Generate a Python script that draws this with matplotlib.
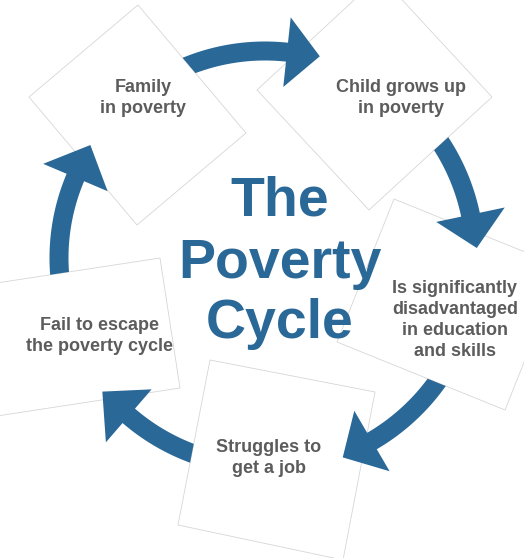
import numpy as np
import matplotlib
matplotlib.use("Agg")
import matplotlib.pyplot as plt
from matplotlib.patches import Polygon
from matplotlib.path import Path

# ---- content ----
step_labels = [
    ["Family", "in poverty"],
    ["Child grows up", "in poverty"],
    ["Is significantly", "disadvantaged", "in education", "and skills"],
    ["Struggles to", "get a job"],
    ["Fail to escape", "the poverty cycle"],
]
title_lines = ["The", "Poverty", "Cycle"]

# ---- layout (pixel space, y down) ----
W, H = 524, 558
BOXES = [
    [(138, 5), (246, 133), (137, 225), (29, 97)],
    [(380, -24), (492, 97), (369, 210), (257, 90)],
    [(394, 199), (562, 267), (505, 410), (337, 342)],
    [(210, 360), (375, 392), (343, 560), (178, 525)],
    [(160, 258), (180, 388), (-3, 416), (-23, 286)],
]
TEXT_POS = [(143, 92), (401, 92), (455, 293), (269, 452), (100, 330)]
LINE_H = 21
TITLE_X = 280
TITLE_BASELINES = [215, 278, 338]
CENTER = (265, 258)
# radius, tail angle, head-base angle, tip angle (degrees)
ARROWS = [
    (207, 118, 83.9, 74.8),
    (210, 40, 11.9, 2.7),
    (212, -30, -59.7, -68.7),
    (208.5, 256, 229.2, 219.4),
    (206, 190, 157, 147.1),
]
BODY_W = 19
HEAD_HW = 35

BLUE = "#2a6897"
GRAY = "#5c5c5c"
FONT = ["Liberation Sans", "DejaVu Sans"]

fig = plt.figure(figsize=(W / 100, H / 100), dpi=100)
ax = fig.add_axes([0, 0, 1, 1])
ax.set_xlim(0, W)
ax.set_ylim(H, 0)
ax.axis("off")

# boxes
for box in BOXES:
    ax.add_patch(Polygon(box, closed=True, facecolor="white",
                         edgecolor="#d6d6d6", linewidth=0.6, zorder=1))


def signed_area(pts):
    p = np.asarray(pts, float)
    return 0.5 * np.sum(p[:, 0] * np.roll(p[:, 1], -1) - np.roll(p[:, 0], -1) * p[:, 1])


def hole_clip(box):
    rect = [(-100, -100), (W + 100, -100), (W + 100, H + 100), (-100, H + 100)]
    b = list(box)
    if np.sign(signed_area(b)) == np.sign(signed_area(rect)):
        b = b[::-1]
    verts = rect + [rect[0]] + b + [b[0]]
    codes = ([Path.MOVETO] + [Path.LINETO] * 3 + [Path.CLOSEPOLY]
             + [Path.MOVETO] + [Path.LINETO] * 3 + [Path.CLOSEPOLY])
    return Path(verts, codes)


cx, cy = CENTER


def pt(r, ang):
    a = np.radians(ang)
    return (cx + r * np.cos(a), cy - r * np.sin(a))


for i, (r, a0, a1, a2) in enumerate(ARROWS):
    ts = np.linspace(a0, a1, 80)
    outer = [pt(r + BODY_W / 2, t) for t in ts]
    inner = [pt(r - BODY_W / 2, t) for t in ts[::-1]]
    head = [pt(r + HEAD_HW, a1), pt(r + 2, a2), pt(r - HEAD_HW, a1)]
    poly = Polygon(outer + head + inner, closed=True, facecolor=BLUE,
                   edgecolor="none", zorder=2)
    ax.add_patch(poly)
    poly.set_clip_path(hole_clip(BOXES[i]), ax.transData)

# step texts
for lines, (x, y0) in zip(step_labels, TEXT_POS):
    for k, line in enumerate(lines):
        ax.text(x, y0 + k * LINE_H, line, ha="center", va="baseline",
                fontsize=13, fontweight="bold", color=GRAY, family=FONT, zorder=3)

# title
for line, yb in zip(title_lines, TITLE_BASELINES):
    ax.text(TITLE_X, yb, line, ha="center", va="baseline", fontsize=40,
            fontweight="bold", color=BLUE, family=FONT, zorder=4)

fig.savefig("out.png", dpi=100, facecolor="white")
